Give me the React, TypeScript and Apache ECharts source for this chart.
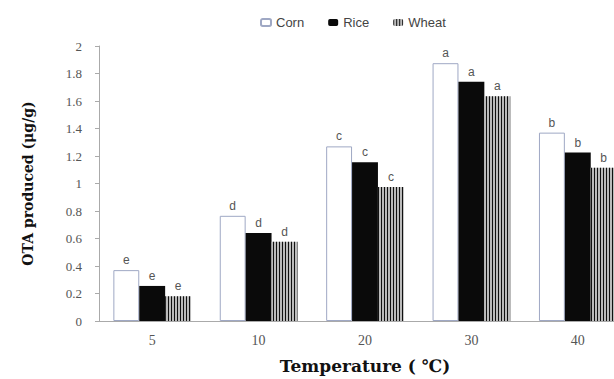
import React, { useEffect, useRef } from "react";
import * as echarts from "echarts";

const categories = ["5", "10", "20", "30", "40"];
const corn = [0.37, 0.765, 1.27, 1.875, 1.37];
const rice = [0.255, 0.64, 1.155, 1.74, 1.225];
const wheat = [0.18, 0.577, 0.975, 1.635, 1.115];
const cornLetters = ["e", "d", "c", "a", "b"];
const riceLetters = ["e", "d", "c", "a", "b"];
const wheatLetters = ["e", "d", "c", "a", "b"];

const serif = "'Liberation Serif', 'DejaVu Serif', serif";
const wideSerif = "'DejaVu Serif', 'Liberation Serif', serif";
const sans = "'Liberation Sans', 'DejaVu Sans', sans-serif";

export default function App() {
  const ref = useRef<HTMLDivElement>(null);
  useEffect(() => {
    if (!ref.current) return;
    const chart = echarts.init(ref.current, undefined, { renderer: "svg" });
    const letterLabel = (letters: string[]) => ({
      show: true,
      position: "top" as const,
      distance: 4,
      color: "#555",
      fontFamily: sans,
      fontSize: 12,
      formatter: (p: any) => letters[p.dataIndex],
    });
    chart.setOption({
      animation: false,
      backgroundColor: "#fff",
      legend: {
        top: 11,
        left: 255,
        itemWidth: 10,
        itemHeight: 7,
        itemGap: 24,
        textStyle: { color: "#444", fontFamily: sans, fontSize: 13 },
        data: ["Corn", "Rice", "Wheat"],
      },
      grid: {
        left: 99,
        right: -17,
        top: 46,
        bottom: 58,
        containLabel: false,
        outerBoundsMode: "none",
      },
      xAxis: {
        type: "category",
        data: categories,
        name: "Temperature ( ℃)",
        nameLocation: "middle",
        nameGap: 36,
        nameTextStyle: { fontFamily: wideSerif, fontWeight: "bold", fontSize: 17, color: "#111" },
        axisLine: { lineStyle: { color: "#aaa" } },
        axisTick: { show: false },
        axisLabel: { color: "#555", fontFamily: serif, fontSize: 14, margin: 12 },
      },
      yAxis: {
        type: "value",
        min: 0,
        max: 2,
        interval: 0.2,
        name: "OTA produced (μg/g)",
        nameLocation: "middle",
        nameGap: 64,
        nameTextStyle: { fontFamily: wideSerif, fontWeight: "bold", fontSize: 14, color: "#111" },
        axisLine: { show: true, lineStyle: { color: "#aaa" } },
        axisTick: { show: true, length: 4, lineStyle: { color: "#aaa" } },
        splitLine: { show: false },
        axisLabel: { color: "#555", fontFamily: serif, fontSize: 13, margin: 17 },
      },
      series: [
        {
          name: "Corn",
          type: "bar",
          data: corn,
          barGap: "0%",
          barCategoryGap: "27%",
          itemStyle: { color: "#fff", borderColor: "#9fa8c4", borderWidth: 1 },
          label: letterLabel(cornLetters),
        },
        {
          name: "Rice",
          type: "bar",
          data: rice,
          barGap: "0%",
          barCategoryGap: "27%",
          itemStyle: { color: "#0a0a0a" },
          label: letterLabel(riceLetters),
        },
        {
          name: "Wheat",
          type: "bar",
          data: wheat,
          barGap: "0%",
          barCategoryGap: "27%",
          itemStyle: {
            color: "#bbb",
            decal: {
              symbol: "rect",
              symbolSize: 1,
              dashArrayX: [1, 2],
              dashArrayY: [4, 0],
              rotation: 0,
              color: "#111",
            },
          },
          label: letterLabel(wheatLetters),
        },
      ],
    });
    return () => chart.dispose();
  }, []);
  return (
    <div
      ref={ref}
      style={{ position: "fixed", left: 0, top: 0, width: 614, height: 379, background: "#fff" }}
    />
  );
}
